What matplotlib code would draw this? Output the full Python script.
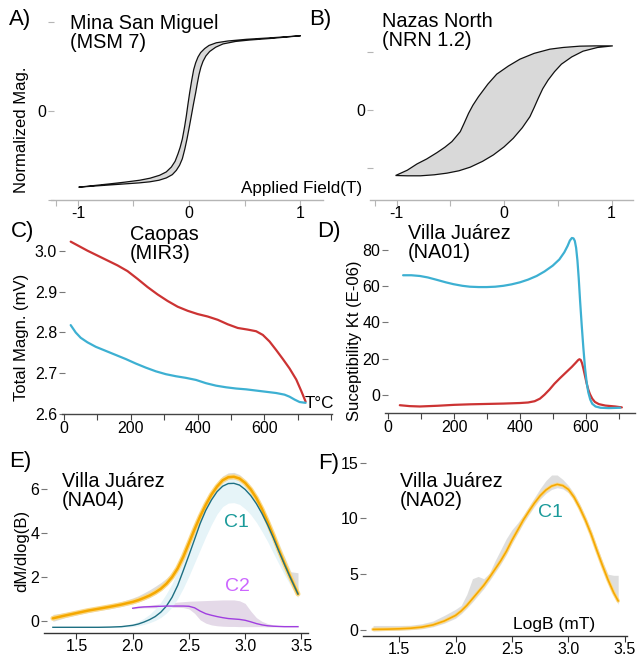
import numpy as np
import matplotlib
matplotlib.use("Agg")
import matplotlib.pyplot as plt

plt.rcParams['font.family'] = ['Liberation Sans', 'DejaVu Sans']
plt.rcParams['axes.unicode_minus'] = False

# ---- A) hysteresis loop, Mina San Miguel (MSM 7)
a_desc_x = [1.006, 0.75, 0.517, 0.35, 0.246, 0.18, 0.141, 0.105, 0.081, 0.060, 0.042, 0.024, 0.006,
            -0.010, -0.024, -0.040, -0.060, -0.080, -0.099, -0.125, -0.159, -0.205, -0.264, -0.350,
            -0.444, -0.580, -0.715, -0.994]
a_desc_y = [0.844, 0.822, 0.804, 0.785, 0.765, 0.735, 0.700, 0.655, 0.605, 0.540, 0.463, 0.340, 0.204,
            0.070, -0.056, -0.180, -0.315, -0.410, -0.481, -0.565, -0.630, -0.685, -0.722, -0.755,
            -0.778, -0.800, -0.819, -0.856]
a_asc_x = [-0.994, -0.655, -0.45, -0.354, -0.270, -0.204, -0.150, -0.114, -0.085, -0.060, -0.038, -0.018,
           0.002, 0.021, 0.040, 0.060, 0.075, 0.090, 0.107, 0.126, 0.152, 0.186, 0.240, 0.306, 0.420,
           0.547, 0.75, 1.006]
a_asc_y = [-0.856, -0.826, -0.808, -0.796, -0.778, -0.752, -0.715, -0.667, -0.610, -0.537, -0.430, -0.315,
           -0.185, -0.056, 0.075, 0.204, 0.310, 0.407, 0.490, 0.556, 0.617, 0.667, 0.715, 0.752, 0.780,
           0.796, 0.815, 0.844]

# ---- B) hysteresis loop, Nazas North (NRN 1.2)
b_desc_x = [1.012, 0.85, 0.704, 0.55, 0.426, 0.28, 0.148, 0.04, -0.068, -0.15, -0.238, -0.29, -0.330,
            -0.37, -0.407, -0.45, -0.485, -0.55, -0.623, -0.72, -0.809, -0.90, -1.009]
b_desc_y = [1.087, 1.087, 1.082, 1.06, 1.031, 0.96, 0.862, 0.745, 0.608, 0.44, 0.225, 0.08, -0.056,
            -0.22, -0.366, -0.46, -0.535, -0.63, -0.721, -0.83, -0.913, -1.02, -1.110]
b_asc_x = [-1.009, -0.90, -0.778, -0.65, -0.531, -0.42, -0.315, -0.20, -0.099, 0.0, 0.086, 0.17, 0.241,
           0.28, 0.318, 0.36, 0.410, 0.47, 0.534, 0.63, 0.735, 0.87, 1.012]
b_asc_y = [-1.110, -1.115, -1.115, -1.098, -1.070, -1.03, -0.969, -0.87, -0.761, -0.625, -0.479, -0.30,
           -0.113, 0.04, 0.197, 0.36, 0.507, 0.65, 0.777, 0.90, 0.997, 1.06, 1.087]

# ---- C) total magnetization vs temperature, Caopas (MIR3)
c_heat_t = [20, 45, 70, 100, 130, 160, 190, 220, 250, 280, 310, 340, 370, 400, 430, 460, 490, 520,
            550, 575, 595, 615, 635, 655, 675, 695, 710, 723]
c_heat_v = [3.022, 3.011, 3.000, 2.988, 2.976, 2.964, 2.950, 2.931, 2.911, 2.893, 2.877, 2.863, 2.853,
            2.845, 2.839, 2.831, 2.820, 2.811, 2.807, 2.803, 2.794, 2.778, 2.757, 2.735, 2.712, 2.685,
            2.657, 2.631]
c_cool_t = [20, 35, 50, 70, 95, 125, 155, 185, 215, 245, 275, 305, 335, 365, 395, 425, 455, 485, 515,
            545, 575, 605, 635, 660, 675, 690, 705, 723]
c_cool_v = [2.818, 2.800, 2.787, 2.776, 2.765, 2.755, 2.745, 2.735, 2.724, 2.714, 2.705, 2.698, 2.693,
            2.689, 2.684, 2.676, 2.670, 2.666, 2.663, 2.661, 2.658, 2.655, 2.652, 2.648, 2.643, 2.636,
            2.630, 2.628]

# ---- D) susceptibility vs temperature, Villa Juarez (NA01)
d_blue_t = [45, 70, 96, 120, 147, 175, 198, 225, 248, 275, 299, 325, 350, 375, 400, 425, 451, 475,
            500, 520, 535, 545, 552, 558, 563, 567, 571, 575, 579, 583, 588, 593, 598, 603, 608, 614,
            620, 630, 645, 670, 705]
d_blue_k = [65.9, 65.9, 65.5, 64.7, 63.4, 62.0, 61.0, 60.1, 59.6, 59.4, 59.4, 59.6, 60.1, 60.9, 62.0,
            63.5, 65.5, 68.0, 71.2, 74.6, 78.5, 82.0, 85.0, 86.4, 86.2, 84.8, 81, 74, 64, 52, 38.4, 26,
            15, 7, 1.5, -2.5, -4.8, -6.3, -7.0, -7.2, -7.0]
d_red_t = [35, 65, 96, 150, 200, 250, 300, 350, 400, 425, 445, 461, 475, 490, 505, 522, 540, 558, 570,
           577, 581, 585, 589, 593, 598, 603, 608, 613, 620, 628, 640, 660, 690, 710]
d_red_k = [-5.6, -6.1, -6.3, -5.9, -5.4, -5.1, -4.9, -4.7, -4.4, -4.1, -3.4, -2.0, 0.2, 3.0, 6.2, 9.3,
           12.4, 15.5, 17.8, 19.2, 19.7, 19.3, 17.5, 14.6, 10.5, 6.4, 3.0, 0.5, -2.0, -3.8, -5.0, -5.8,
           -6.3, -6.8]

# ---- E) coercivity components, Villa Juarez (NA04)
e_logb = [1.29, 1.40, 1.50, 1.60, 1.70, 1.80, 1.90, 2.00, 2.05, 2.10, 2.15, 2.20, 2.25, 2.30, 2.35,
          2.40, 2.45, 2.50, 2.55, 2.60, 2.65, 2.70, 2.75, 2.80, 2.85, 2.90, 2.95, 3.00, 3.05, 3.10,
          3.15, 3.20, 3.25, 3.30, 3.35, 3.40, 3.47]
e_total = [0.12, 0.25, 0.36, 0.47, 0.56, 0.65, 0.75, 0.87, 0.95, 1.05, 1.16, 1.30, 1.47, 1.70, 2.00,
           2.40, 2.93, 3.55, 4.18, 4.77, 5.30, 5.76, 6.13, 6.42, 6.56, 6.58, 6.50, 6.30, 6.00, 5.60,
           5.10, 4.52, 3.90, 3.24, 2.62, 2.03, 1.23]
e_data_lo = [-0.02, 0.15, 0.27, 0.38, 0.47, 0.56, 0.66, 0.78, 0.86, 0.96, 1.07, 1.21, 1.38, 1.60, 1.90,
             2.30, 2.83, 3.45, 4.08, 4.67, 5.20, 5.66, 6.03, 6.32, 6.46, 6.48, 6.40, 6.20, 5.90, 5.50,
             5.00, 4.42, 3.80, 3.14, 2.52, 1.93, 1.13]
e_data_hi = [0.30, 0.38, 0.46, 0.56, 0.66, 0.76, 0.88, 1.05, 1.15, 1.28, 1.42, 1.58, 1.75, 1.95, 2.22,
             2.58, 3.08, 3.68, 4.30, 4.90, 5.44, 5.90, 6.30, 6.62, 6.76, 6.78, 6.68, 6.45, 6.12, 5.72,
             5.22, 4.64, 4.02, 3.38, 2.90, 2.25, 2.20]
e_c1 = [-0.29, -0.29, -0.29, -0.29, -0.29, -0.28, -0.26, -0.20, -0.14, -0.05, 0.06, 0.20, 0.40, 0.68,
        1.08, 1.62, 2.30, 3.00, 3.72, 4.45, 5.05, 5.52, 5.90, 6.15, 6.27, 6.28, 6.20, 6.00, 5.72, 5.35,
        4.90, 4.38, 3.80, 3.18, 2.58, 2.00, 1.23]
e_c1_lo = [-0.29, -0.29, -0.29, -0.29, -0.29, -0.29, -0.29, -0.26, -0.22, -0.16, -0.08, 0.02, 0.16,
           0.36, 0.64, 1.02, 1.50, 2.05, 2.65, 3.25, 3.85, 4.40, 4.88, 5.22, 5.38, 5.40, 5.32, 5.12,
           4.85, 4.50, 4.08, 3.62, 3.10, 2.60, 2.10, 1.65, 1.05]
e_c1_hi = [-0.25, -0.25, -0.25, -0.25, -0.25, -0.25, -0.22, -0.12, -0.02, 0.12, 0.30, 0.55, 0.85,
           1.25, 1.70, 2.30, 2.95, 3.60, 4.25, 4.85, 5.40, 5.85, 6.20, 6.45, 6.55, 6.55, 6.48, 6.30,
           6.05, 5.70, 5.25, 4.75, 4.18, 3.55, 2.95, 2.35, 1.55]
e_c2_logb = [2.00, 2.05, 2.10, 2.15, 2.20, 2.25, 2.30, 2.35, 2.40, 2.45, 2.50, 2.55, 2.60, 2.65, 2.70,
             2.75, 2.80, 2.85, 2.90, 2.95, 3.00, 3.05, 3.10, 3.15, 3.20, 3.25, 3.30, 3.35, 3.40, 3.47]
e_c2 = [0.58, 0.62, 0.64, 0.65, 0.66, 0.67, 0.68, 0.68, 0.68, 0.68, 0.67, 0.60, 0.45, 0.33, 0.26,
        0.20, 0.15, 0.11, 0.09, 0.07, 0.03, -0.04, -0.12, -0.18, -0.22, -0.24, -0.25, -0.26, -0.26, -0.26]
e_c2_lo = [0.55, 0.58, 0.60, 0.60, 0.60, 0.61, 0.62, 0.62, 0.62, 0.61, 0.55, 0.35, 0.05, -0.10, -0.18,
           -0.22, -0.24, -0.25, -0.25, -0.26, -0.26, -0.26, -0.26, -0.26, -0.27, -0.27, -0.27, -0.27,
           -0.27, -0.27]
e_c2_hi = [0.62, 0.66, 0.70, 0.72, 0.75, 0.78, 0.82, 0.84, 0.86, 0.88, 0.90, 0.91, 0.92, 0.93, 0.94,
           0.95, 0.96, 0.96, 0.96, 0.92, 0.80, 0.45, 0.15, -0.02, -0.12, -0.18, -0.21, -0.23, -0.24, -0.24]

# ---- F) coercivity components, Villa Juarez (NA02)
f_logb = [1.27, 1.40, 1.50, 1.60, 1.70, 1.80, 1.90, 2.00, 2.05, 2.10, 2.15, 2.20, 2.25, 2.30, 2.35,
          2.40, 2.45, 2.50, 2.55, 2.60, 2.65, 2.70, 2.75, 2.80, 2.85, 2.90, 2.95, 3.00, 3.05, 3.10,
          3.15, 3.20, 3.25, 3.30, 3.35, 3.40, 3.44]
f_total = [0.05, 0.07, 0.10, 0.15, 0.25, 0.45, 0.80, 1.30, 1.70, 2.20, 2.80, 3.40, 4.00, 4.70, 5.45,
           6.20, 7.05, 8.05, 8.95, 9.86, 10.65, 11.40, 12.05, 12.55, 12.90, 13.06, 12.95, 12.60, 11.90,
           10.95, 9.85, 8.60, 7.17, 5.80, 4.50, 3.35, 2.60]
f_data_lo = [-0.10, -0.05, -0.02, 0.02, 0.10, 0.28, 0.60, 1.05, 1.45, 1.95, 2.50, 3.10, 3.70, 4.40,
             5.15, 5.90, 6.75, 7.75, 8.65, 9.56, 10.35, 11.10, 11.75, 12.25, 12.60, 12.76, 12.65,
             12.30, 11.60, 10.65, 9.55, 8.30, 6.87, 5.50, 4.20, 3.05, 2.30]
f_data_hi = [0.40, 0.40, 0.40, 0.42, 0.55, 0.80, 1.30, 1.85, 2.20, 3.20, 4.60, 4.80, 4.60, 5.10, 6.20,
             7.20, 8.20, 9.00, 9.60, 10.30, 11.10, 11.90, 12.70, 13.40, 13.90, 13.90, 13.50, 12.95,
             12.25, 11.30, 10.20, 8.95, 7.55, 6.20, 5.00, 4.90, 4.90]

W, H = 639, 658


def box(l, t, r, b):
    # pixel box (left, top, right, bottom) -> figure fraction
    return [l / W, 1 - b / H, (r - l) / W, (b - t) / H]


def ftext(px, py, s, **kw):
    fig.text(px / W, 1 - py / H, s, **kw)


def style(ax, line_col, tick_col):
    for side in ('left', 'top', 'right'):
        ax.spines[side].set_visible(False)
    ax.spines['bottom'].set_color(line_col)
    ax.spines['bottom'].set_linewidth(1.0)
    ax.tick_params(axis='x', which='both', direction='out', length=4, width=0.8,
                   color=line_col, labelsize=11.5, pad=0.5)
    ax.tick_params(axis='y', which='both', direction='inout', length=5, width=0.8,
                   color=tick_col, labelsize=11.5, pad=1)
    ax.patch.set_alpha(0)


fig = plt.figure(figsize=(W / 100, H / 100), dpi=100)

grey_fill = '#d9d9d9'
red = '#cc3333'
blue = '#3db0d2'
orange = '#f5a800'
teal = '#1d6f82'

# A
axA = fig.add_axes(box(51, 10, 323, 200))
axA.fill(a_desc_x + a_asc_x, a_desc_y + a_asc_y, facecolor=grey_fill, edgecolor='#111111', lw=0.9)
axA.set_xlim(-1.243, 1.207)
axA.set_ylim(-0.978, 1.133)
axA.set_xticks([-1, 0, 1])
axA.set_xticks([-1.2, -0.5, 0.5], minor=True)
axA.set_yticks([-1, 0, 1])
axA.set_yticklabels(['', '0', ''])
style(axA, '#b5b5b5', '#b5b5b5')

# B
axB = fig.add_axes(box(370, 10, 633, 200))
axB.fill(b_desc_x + b_asc_x, b_desc_y + b_asc_y, facecolor=grey_fill, edgecolor='#111111', lw=0.9)
axB.set_xlim(-1.247, 1.2)
axB.set_ylim(-1.525, 1.695)
axB.set_xticks([-1, 0, 1])
axB.set_xticks([-1.2, -0.5, 0.5], minor=True)
axB.set_yticks([-0.98, 0, 0.98])
axB.set_yticklabels(['', '0', ''])
style(axB, '#b5b5b5', '#b5b5b5')

# C
axC = fig.add_axes(box(62, 222, 332, 414.3))
axC.plot(c_heat_t, c_heat_v, color=red, lw=1.6, solid_capstyle='round', solid_joinstyle='round')
axC.plot(c_cool_t, c_cool_v, color=blue, lw=1.6, solid_capstyle='round', solid_joinstyle='round')
axC.set_xlim(-6, 802)
axC.set_ylim(2.6, 3.070)
axC.set_xticks([0, 200, 400, 600])
axC.set_xticks([100, 300, 500, 700, 800], minor=True)
axC.set_yticks([2.6, 2.7, 2.8, 2.9, 3.0])
axC.set_yticklabels(['2.6', '2.7', '2.8', '2.9', '3.0'])
style(axC, '#444444', '#777777')

# D
axD = fig.add_axes(box(385, 222, 635, 413.3))
axD.plot(d_red_t, d_red_k, color=red, lw=1.6, solid_capstyle='round', solid_joinstyle='round')
axD.plot(d_blue_t, d_blue_k, color=blue, lw=1.6, solid_capstyle='round', solid_joinstyle='round')
axD.set_xlim(-10, 750)
axD.set_ylim(-10.05, 95.2)
axD.set_xticks([0, 200, 400, 600])
axD.set_xticks([100, 300, 500, 700], minor=True)
axD.set_yticks([0, 20, 40, 60, 80])
style(axD, '#444444', '#777777')

# E
axE = fig.add_axes(box(44, 445, 308, 633))
axE.fill_between(e_c2_logb, e_c2_lo, e_c2_hi, color='#e4d9e8', lw=0)
axE.fill_between(e_logb, e_c1_lo, e_c1_hi, color='#e6f4f8', lw=0)
axE.fill_between(e_logb, e_data_lo, e_data_hi, color='#cfcfcf', alpha=0.7, lw=0)
axE.plot(e_logb, e_total, color='#fbd98a', lw=3.6, solid_capstyle='round')
axE.plot(e_logb, e_total, color=orange, lw=1.8, solid_capstyle='round')
axE.plot(e_logb, e_c1, color=teal, lw=1.0)
axE.plot(e_c2_logb, e_c2, color='#a03ee0', lw=1.0)
axE.set_xlim(1.211, 3.559)
axE.set_ylim(-0.55, 8.03)
axE.set_xticks([1.5, 2.0, 2.5, 3.0, 3.5])
axE.set_yticks([0, 2, 4, 6])
axE.text(2.92, 4.5, 'C1', color='#1a9a9a', fontsize=14, ha='center', va='center')
axE.text(2.93, 1.55, 'C2', color='#cc66ff', fontsize=14, ha='center', va='center')
style(axE, '#333333', '#777777')

# F
axF = fig.add_axes(box(363, 445, 627, 635.5))
axF.fill_between(f_logb, f_data_lo, f_data_hi, color='#d4d4d4', alpha=0.75, lw=0)
axF.plot(f_logb, f_total, color='#fbd98a', lw=2.6, solid_capstyle='round')
axF.plot(f_logb, f_total, color=orange, lw=1.2, solid_capstyle='round')
axF.set_xlim(1.181, 3.518)
axF.set_ylim(-0.5, 16.59)
axF.set_xticks([1.5, 2.0, 2.5, 3.0, 3.5])
axF.set_yticks([0, 5, 10, 15])
axF.text(2.84, 10.5, 'C1', color='#1a9a9a', fontsize=14, ha='center', va='center')
style(axF, '#333333', '#777777')

# panel letters, sample names, axis titles
for px, py, s in [(9, 19, 'A)'), (309, 19, 'B)'), (11, 232, 'C)'), (317, 232, 'D)'),
                  (9, 461, 'E)'), (318, 464, 'F)')]:
    ftext(px, py, s, fontsize=16, ha='left', va='center')

for px, py, s in [(70, 33, 'Mina San Miguel\n(MSM 7)'), (382, 31, 'Nazas North\n(NRN 1.2)'),
                  (130, 244, 'Caopas\n(MIR3)'), (408, 243, 'Villa Juárez\n(NA01)'),
                  (62, 491, 'Villa Juárez\n(NA04)'), (400, 491, 'Villa Juárez\n(NA02)')]:
    ftext(px, py, s, fontsize=14.3, ha='left', va='center', linespacing=0.95)

ftext(22, 130, 'Normalized Mag.', fontsize=12, rotation=90, ha='center', va='center')
ftext(22, 337, 'Total Magn. (mV)', fontsize=12, rotation=90, ha='center', va='center')
ftext(355, 341, 'Suceptibility Kt (E-06)', fontsize=12, rotation=90, ha='center', va='center')
ftext(22, 551, 'dM/dlog(B)', fontsize=12, rotation=90, ha='center', va='center')
ftext(302, 188, 'Applied Field(T)', fontsize=12.3, ha='center', va='center')
ftext(319, 404, 'T°C', fontsize=12.3, ha='center', va='center')
ftext(554, 625, 'LogB (mT)', fontsize=12.5, ha='center', va='center')

fig.savefig('out.png', dpi=100)
